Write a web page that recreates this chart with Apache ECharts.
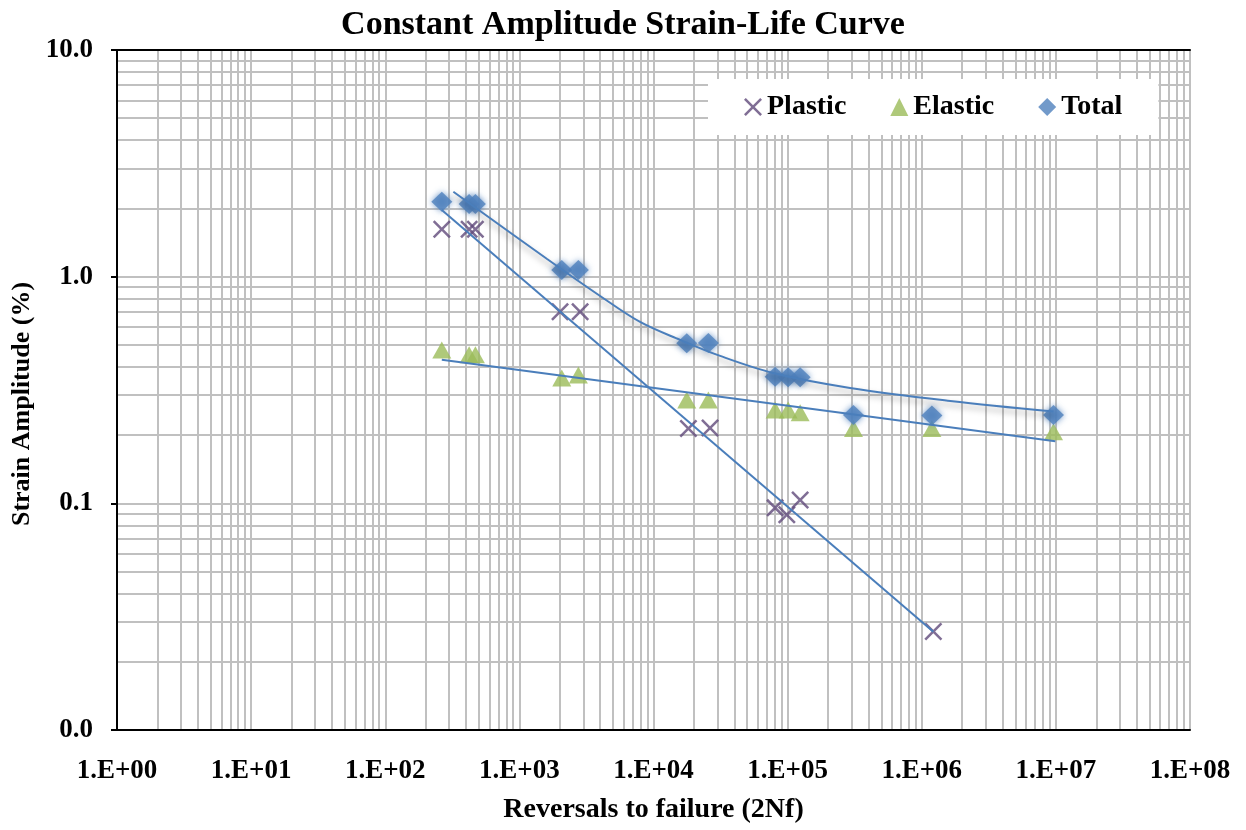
<!DOCTYPE html>
<html>
<head>
<meta charset="utf-8">
<title>Constant Amplitude Strain-Life Curve</title>
<script src="https://cdn.jsdelivr.net/npm/echarts@6/dist/echarts.min.js"></script>
<style>
  html, body { margin: 0; padding: 0; background: #fff; }
  #chart { width: 1246px; height: 830px; }
</style>
</head>
<body>
<div id="chart"></div>
<script>
'use strict';

// 数据点 (reversals 2Nf, strain amplitude %)
var plasticN = [264, 422, 470, 2010, 2837, 18200, 26400, 80700, 98600, 124000, 1220000];
var plasticStrain = [1.62, 1.62, 1.62, 0.70, 0.70, 0.214, 0.215, 0.0955, 0.089, 0.1035, 0.0272];

var elasticN = [264, 422, 470, 2070, 2754, 17700, 25650, 80700, 100900, 124000, 309700, 1190000, 9600000];
var elasticStrain = [0.475, 0.452, 0.452, 0.357, 0.368, 0.286, 0.286, 0.258, 0.258, 0.251, 0.214, 0.214, 0.207];

var totalN = [264, 422, 470, 2070, 2754, 17700, 25650, 80700, 100900, 124000, 309700, 1190000, 9600000];
var totalStrain = [2.14, 2.09, 2.09, 1.07, 1.07, 0.508, 0.51, 0.362, 0.36, 0.36, 0.245, 0.244, 0.245];

// 趋势线
var plasticFitN = [264, 1220000];
var plasticFitStrain = [1.97, 0.0271];
var elasticFitN = [264, 9900000];
var elasticFitStrain = [0.43, 0.188];
var totalFitN = [322, 1610, 4000, 7940, 15800, 31400, 78000, 292000, 1630000, 9600000];
var totalFitStrain = [2.37, 1.197, 0.822, 0.631, 0.526, 0.447, 0.376, 0.323, 0.283, 0.254];

// 刻度标签
var xTickLabels = ['1.E+00', '1.E+01', '1.E+02', '1.E+03', '1.E+04', '1.E+05', '1.E+06', '1.E+07', '1.E+08'];
var yTickLabels = ['0.0', '0.1', '1.0', '10.0'];

var font = 'Liberation Serif';
var gridGrey = '#c0c0c0';
var lineBlue = '#4a7ebb';

function pairs(xs, ys) {
    return xs.map(function (x, i) { return [x, ys[i]]; });
}

// minor grid lines (2..9 of each decade)
var minorLines = [];
for (var d = 0; d < 8; d++) {
    for (var k = 2; k <= 9; k++) minorLines.push({ xAxis: k * Math.pow(10, d) });
}
for (var d2 = -2; d2 < 1; d2++) {
    for (var k2 = 2; k2 <= 9; k2++) minorLines.push({ yAxis: k2 * Math.pow(10, d2) });
}

var crossPath = 'path://M0,1 L1,0 L5,4 L9,0 L10,1 L6,5 L10,9 L9,10 L5,6 L1,10 L0,9 L4,5 Z';

var option = {
    animation: false,
    backgroundColor: '#fff',
    title: {
        text: 'Constant Amplitude Strain-Life Curve',
        left: 'center',
        top: 3,
        textStyle: { fontFamily: font, fontWeight: 'bold', fontSize: 34, color: '#000' }
    },
    legend: {
        left: 708,
        top: 79,
        padding: [14, 36, 14, 36],
        itemGap: 44,
        itemWidth: 18,
        itemHeight: 18,
        backgroundColor: '#fff',
        z: 10,
        data: ['Plastic', 'Elastic', 'Total'],
        textStyle: { fontFamily: font, fontWeight: 'bold', fontSize: 28, color: '#000', padding: [4, 0, 0, 0] }
    },
    grid: { left: 117, right: 56, top: 50, bottom: 100, containLabel: false, outerBoundsMode: 'none' },
    xAxis: [{
        type: 'log',
        logBase: 10,
        min: 1,
        max: 1e8,
        splitNumber: 8,
        name: 'Reversals to failure (2Nf)',
        nameLocation: 'middle',
        nameGap: 66,
        nameTextStyle: { fontFamily: font, fontWeight: 'bold', fontSize: 28, color: '#000' },
        axisLine: { lineStyle: { color: '#000', width: 2 } },
        axisTick: { show: false },
        axisLabel: {
            margin: 28,
            fontFamily: font, fontWeight: 'bold', fontSize: 27, color: '#000',
            formatter: function (v) { return xTickLabels[Math.round(Math.log10(v))]; }
        },
        splitLine: { show: true, lineStyle: { color: gridGrey, width: 2 } }
    }, {
        type: 'log',
        logBase: 10,
        min: 1,
        max: 1e8,
        position: 'top',
        axisLine: { show: true, lineStyle: { color: '#000', width: 2 } },
        axisTick: { show: false },
        axisLabel: { show: false },
        splitLine: { show: false }
    }],
    yAxis: {
        type: 'log',
        logBase: 10,
        min: 0.01,
        max: 10,
        name: 'Strain Amplitude (%)',
        nameLocation: 'middle',
        nameGap: 73,
        nameTextStyle: { fontFamily: font, fontWeight: 'bold', fontSize: 26, color: '#000', padding: [0, 28, 0, 0] },
        axisLine: { show: true, lineStyle: { color: '#000', width: 2 } },
        axisTick: { show: true, length: 6, lineStyle: { color: '#000', width: 2 } },
        axisLabel: {
            margin: 24,
            fontFamily: font, fontWeight: 'bold', fontSize: 27, color: '#000',
            formatter: function (v) { return yTickLabels[Math.round(Math.log10(v)) + 2]; }
        },
        splitLine: { show: true, lineStyle: { color: gridGrey, width: 2 } }
    },
    series: [
        {
            name: 'grid',
            type: 'scatter',
            data: [],
            silent: true,
            z: 0,
            markLine: {
                z: 0,
                silent: true,
                symbol: 'none',
                label: { show: false },
                lineStyle: { color: gridGrey, width: 2, type: 'solid' },
                data: minorLines
            }
        },
        {
            name: 'Plastic',
            type: 'scatter',
            symbol: crossPath,
            symbolSize: 18,
            itemStyle: { color: '#604a7b' },
            data: pairs(plasticN, plasticStrain),
            z: 3
        },
        {
            name: 'Elastic',
            type: 'scatter',
            symbol: 'triangle',
            symbolSize: [19, 17],
            itemStyle: { color: '#9bbb59' },
            data: pairs(elasticN, elasticStrain),
            z: 3
        },
        {
            name: 'Total',
            type: 'scatter',
            symbol: 'diamond',
            symbolSize: [21, 20],
            itemStyle: { color: '#4f81bd', shadowBlur: 6, shadowColor: '#4f81bd' },
            data: pairs(totalN, totalStrain),
            z: 3
        },
        {
            name: 'plasticFit',
            type: 'line',
            showSymbol: false,
            silent: true,
            lineStyle: { color: lineBlue, width: 2 },
            data: pairs(plasticFitN, plasticFitStrain),
            z: 4
        },
        {
            name: 'elasticFit',
            type: 'line',
            showSymbol: false,
            silent: true,
            lineStyle: { color: lineBlue, width: 2 },
            data: pairs(elasticFitN, elasticFitStrain),
            z: 4
        },
        {
            name: 'totalFit',
            type: 'line',
            showSymbol: false,
            silent: true,
            smooth: 0.35,
            lineStyle: {
                color: lineBlue, width: 2,
                shadowColor: 'rgba(0,0,0,0.35)', shadowBlur: 6, shadowOffsetY: 4
            },
            data: pairs(totalFitN, totalFitStrain),
            z: 4
        }
    ]
};

var myChart = echarts.init(document.getElementById('chart'));
myChart.setOption(option);
</script>
</body>
</html>
